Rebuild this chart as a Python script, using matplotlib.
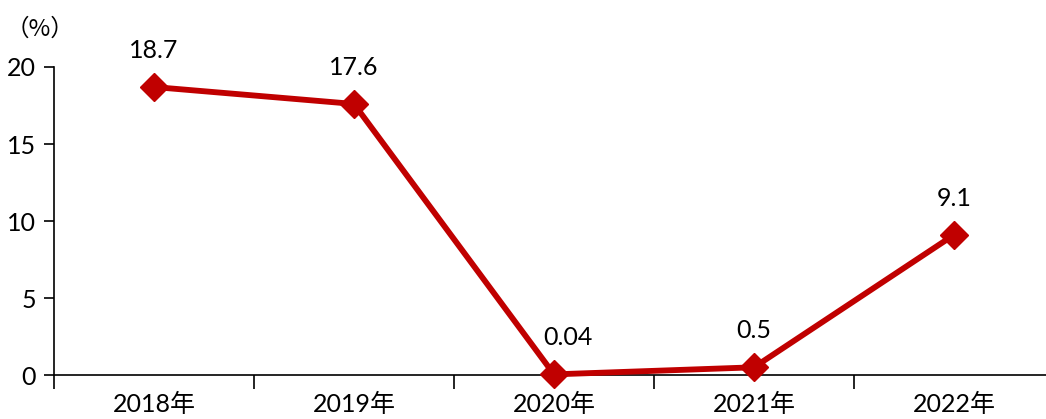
import matplotlib.pyplot as plt

plt.rcParams['font.family'] = ['Lato', 'Noto Sans CJK SC', 'DejaVu Sans']

years = ["2018年", "2019年", "2020年", "2021年", "2022年"]
growth = [18.7, 17.6, 0.04, 0.5, 9.1]
labels = ["18.7", "17.6", "0.04", "0.5", "9.1"]

fig = plt.figure(figsize=(10.46, 4.19), dpi=100)
ax = fig.add_axes([54 / 1046, 1 - 375 / 419, 1000 / 1046, 308 / 419])

x = list(range(len(years)))
ax.plot(x, growth, color="#C00000", linewidth=4.2, marker="D", markersize=14,
        clip_on=False, zorder=3)
# the 0.04 label sits a little to the right so the line doesn't run through it
shift = [0, 0, 10, 0, 0]
for xi, yi, t, dx in zip(x, growth, labels, shift):
    ax.annotate(t, (xi, yi), xytext=(dx, 18), textcoords="offset points",
                ha="center", va="bottom", fontsize=18)

ax.set_xlim(-0.5, 4.5)
ax.set_ylim(0, 20)
ax.set_yticks([0, 5, 10, 15, 20])
ax.set_xticks([i - 0.5 for i in range(6)])
ax.set_xticklabels([])
ax.set_xticks(x, minor=True)
ax.set_xticklabels(years, minor=True)
ax.tick_params(axis="x", which="minor", length=0, labelsize=18, pad=13)
ax.tick_params(axis="x", which="major", length=10, width=1.2, direction="out")
ax.tick_params(axis="y", length=7, width=1.2, labelsize=18, pad=6)

for s in ["top", "right"]:
    ax.spines[s].set_visible(False)
ax.spines["left"].set_linewidth(1.2)
ax.spines["bottom"].set_linewidth(1.2)

fig.text(6 / 1046, 1 - 29 / 419, "（%）", fontsize=17, va="center", ha="left",
         family=['Noto Sans CJK SC', 'DejaVu Sans'])

fig.savefig("out.png", dpi=100)
